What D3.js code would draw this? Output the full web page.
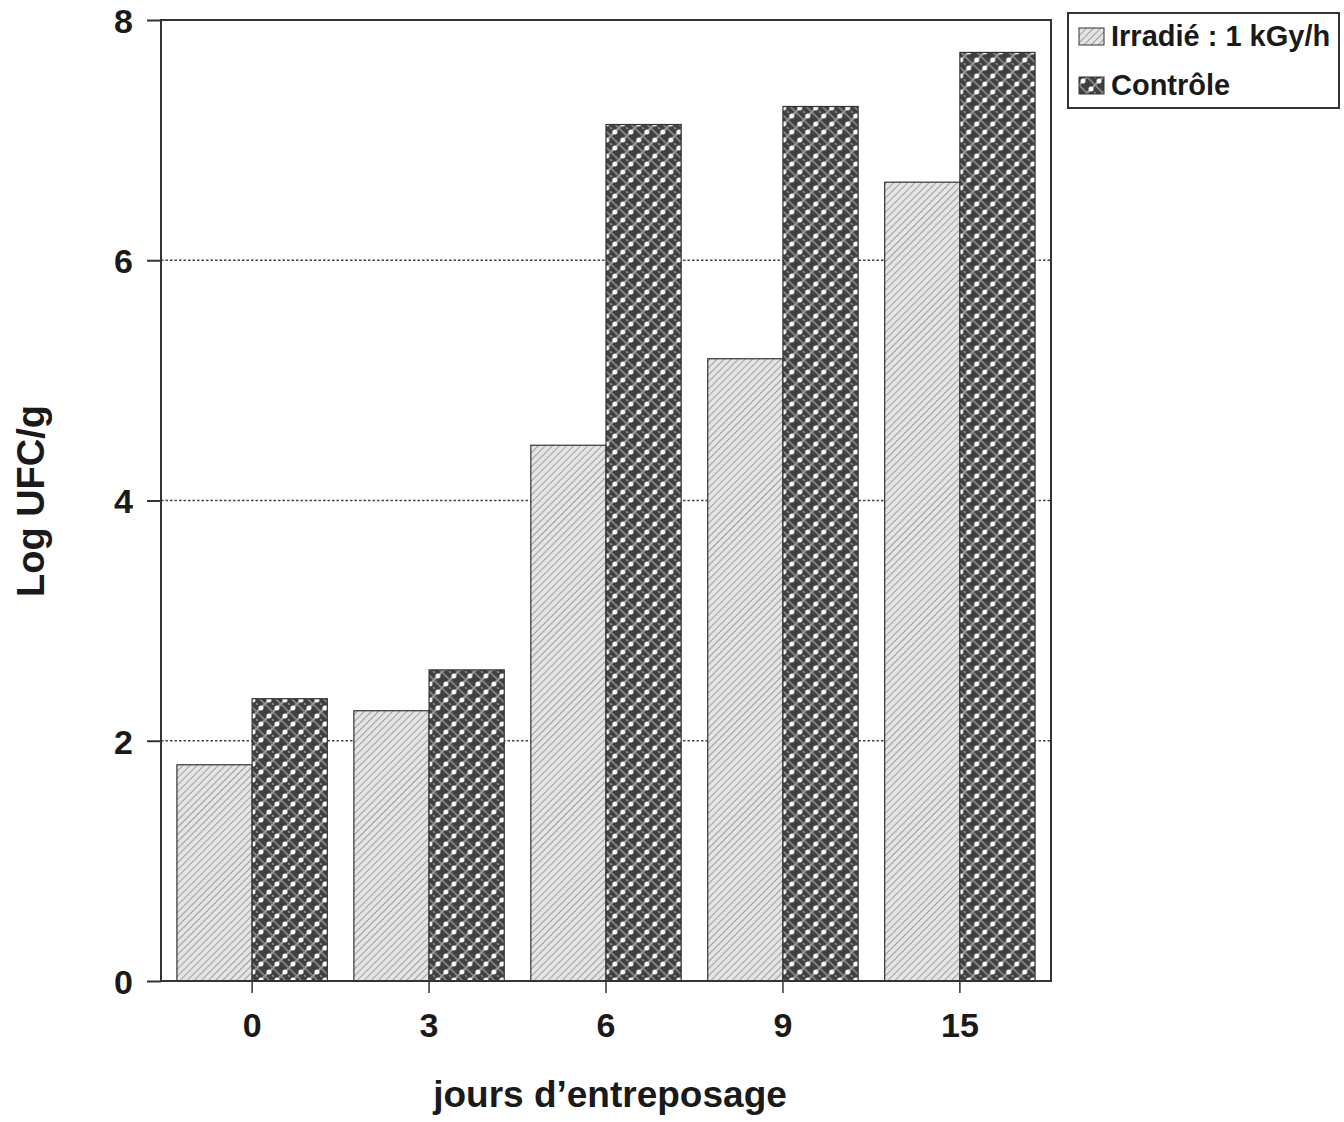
<!DOCTYPE html>
<html>
<head>
<meta charset="utf-8">
<script src="https://cdn.jsdelivr.net/npm/d3@7"></script>
<style>
  html, body { margin: 0; padding: 0; background: #fff; }
  svg { display: block; }
  text { font-family: "Liberation Sans", Arial, Helvetica, sans-serif; font-weight: bold; fill: #1a1a1a; }
</style>
</head>
<body>
<svg id="chart" width="1344" height="1122"></svg>
<script>
// ---- data ----
const categories = ["0", "3", "6", "9", "15"];
const seriesNames = ["Irradié : 1 kGy/h", "Contrôle"];
const irradie = [1.80, 2.25, 4.46, 5.18, 6.65];
const controle = [2.35, 2.59, 7.13, 7.28, 7.73];
const yTicks = [0, 2, 4, 6, 8];
const gridValues = [2, 4, 6];
const xTitle = "jours d’entreposage";
const yTitle = "Log UFC/g";

// ---- layout ----
const svg = d3.select("#chart");
const plot = { left: 161, right: 1051, top: 20, bottom: 981 };

const x = d3.scaleBand().domain(categories).range([plot.left, plot.right])
  .paddingInner(0.15).paddingOuter(0.09);
const xs = d3.scaleBand().domain(seriesNames).range([0, x.bandwidth()]);
const y = d3.scaleLinear().domain([0, 8]).range([plot.bottom, plot.top]);

// ---- patterns ----
const defs = svg.append("defs");
const hatch = defs.append("pattern").attr("id", "hatch")
  .attr("patternUnits", "userSpaceOnUse").attr("width", 5).attr("height", 5)
  .attr("patternTransform", "rotate(45)");
hatch.append("rect").attr("width", 5).attr("height", 5).attr("fill", "#e4e4e4");
hatch.append("line").attr("x1", 0).attr("y1", 0).attr("x2", 0).attr("y2", 5)
  .attr("stroke", "#7a7a7a").attr("stroke-width", 1.3);

const weave = defs.append("pattern").attr("id", "weave")
  .attr("patternUnits", "userSpaceOnUse").attr("width", 16).attr("height", 16);
weave.append("rect").attr("width", 16).attr("height", 16).attr("fill", "#404040");
weave.append("path").attr("d", "M0,8 L8,0 M8,16 L16,8 M-2,2 L2,-2 M14,18 L18,14")
  .attr("stroke", "#a0a0a0").attr("stroke-width", 2);
weave.append("path").attr("d", "M0,8 L8,16 M8,0 L16,8 M14,-2 L18,2 M-2,14 L2,18")
  .attr("stroke", "#8c8c8c").attr("stroke-width", 1.6);
weave.append("circle").attr("cx", 4).attr("cy", 4).attr("r", 2.5).attr("fill", "#fafafa");
weave.append("circle").attr("cx", 12).attr("cy", 12).attr("r", 2.5).attr("fill", "#fafafa");

const fills = { [seriesNames[0]]: "url(#hatch)", [seriesNames[1]]: "url(#weave)" };

// ---- gridlines ----
svg.append("g").selectAll("line").data(gridValues).join("line")
  .attr("x1", plot.left).attr("x2", plot.right)
  .attr("y1", d => y(d)).attr("y2", d => y(d))
  .attr("stroke", "#444").attr("stroke-width", 1.4)
  .attr("stroke-dasharray", "2.5,2");

// ---- bars ----
const rows = categories.map((c, i) => ({ c, vals: [irradie[i], controle[i]] }));
const groups = svg.append("g").selectAll("g").data(rows).join("g")
  .attr("transform", d => `translate(${x(d.c)},0)`);
groups.selectAll("rect").data(d => d.vals.map((v, j) => ({ s: seriesNames[j], v })))
  .join("rect")
  .attr("x", d => xs(d.s)).attr("width", xs.bandwidth())
  .attr("y", d => y(d.v)).attr("height", d => y(0) - y(d.v))
  .attr("fill", d => fills[d.s])
  .attr("stroke", "#333").attr("stroke-width", 1.2);

// ---- frame ----
svg.append("rect").attr("x", plot.left).attr("y", plot.top)
  .attr("width", plot.right - plot.left).attr("height", plot.bottom - plot.top)
  .attr("fill", "none").attr("stroke", "#333").attr("stroke-width", 2);

// ---- axes ----
const yAxis = d3.axisLeft(y).tickValues(yTicks).tickSize(14).tickPadding(14)
  .tickFormat(d3.format("d"));
const gy = svg.append("g").attr("transform", `translate(${plot.left},0)`).call(yAxis);
gy.select(".domain").remove();
gy.selectAll(".tick line").attr("stroke", "#333").attr("stroke-width", 2);
gy.selectAll(".tick text").attr("font-size", 34).attr("dy", "0.36em")
  .style("font-family", "'Liberation Sans', Arial, sans-serif").style("font-weight", "bold").attr("fill", "#1a1a1a");

const xAxis = d3.axisBottom(x).tickSize(12).tickPadding(20);
const gx = svg.append("g").attr("transform", `translate(0,${plot.bottom})`).call(xAxis);
gx.select(".domain").remove();
gx.selectAll(".tick line").attr("stroke", "#333").attr("stroke-width", 1.5);
gx.selectAll(".tick text").attr("font-size", 34)
  .style("font-family", "'Liberation Sans', Arial, sans-serif").style("font-weight", "bold").attr("fill", "#1a1a1a");

// ---- titles ----
svg.append("text").attr("x", 610).attr("y", 1107).attr("text-anchor", "middle")
  .attr("font-size", 37).text(xTitle);
svg.append("text").attr("transform", "translate(44,501) rotate(-90)")
  .attr("text-anchor", "middle").attr("font-size", 38).text(yTitle);

// ---- legend ----
const lg = svg.append("g");
lg.append("rect").attr("x", 1068).attr("y", 13).attr("width", 271).attr("height", 95)
  .attr("fill", "#fff").attr("stroke", "#333").attr("stroke-width", 2);
const items = lg.selectAll("g.item").data(seriesNames).join("g").attr("class", "item")
  .attr("transform", (d, i) => `translate(1079,${28 + i * 49})`);
items.append("rect").attr("width", 25).attr("height", 17)
  .attr("fill", d => fills[d]).attr("stroke", "#333").attr("stroke-width", 1);
items.append("text").attr("x", 32).attr("y", 18).attr("font-size", 29).text(d => d);
</script>
</body>
</html>
